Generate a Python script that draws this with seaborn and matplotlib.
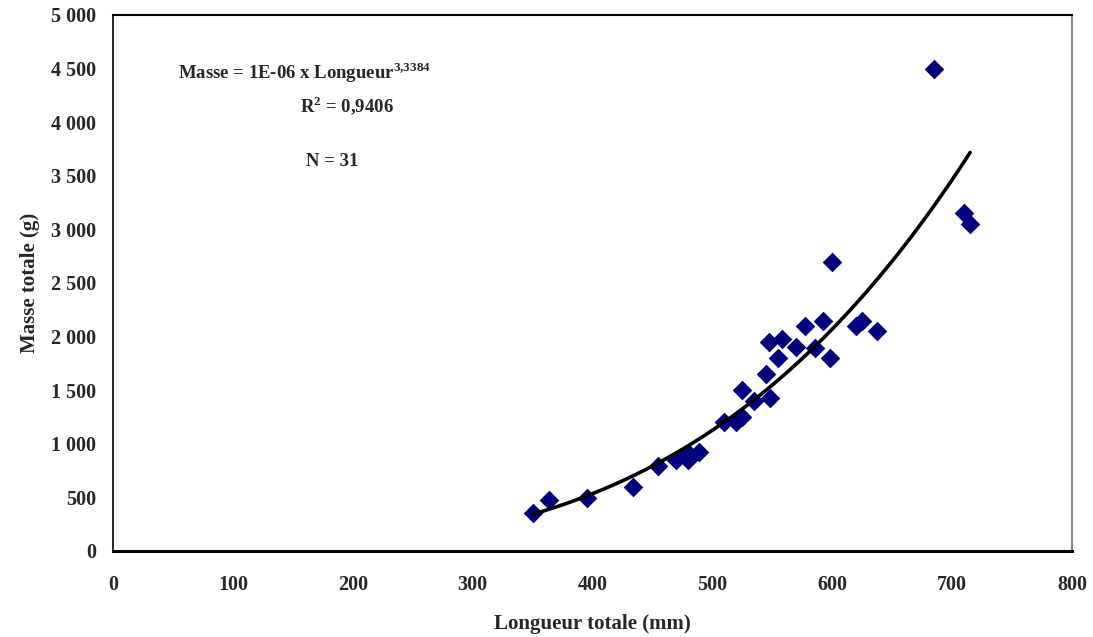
import numpy as np
import pandas as pd
import matplotlib
matplotlib.use("Agg")
import matplotlib.pyplot as plt
import seaborn as sns

# Data
longueur = [350, 364, 395, 434, 455, 470, 480, 480, 489, 510, 520, 525, 525, 535,
            548, 545, 547, 555, 558, 570, 577, 586, 592, 598, 600, 620, 625, 637,
            685, 710, 715]
masse = [350, 480, 490, 595, 795, 850, 850, 910, 920, 1200, 1200, 1250, 1500, 1400,
         1425, 1650, 1950, 1800, 1980, 1900, 2100, 1890, 2150, 1800, 2700, 2100, 2150, 2050,
         4500, 3150, 3050]

# Power trendline  Masse = A x Longueur^B
TREND_A = 1.1e-06
TREND_B = 3.3384

x_ticks = [0, 100, 200, 300, 400, 500, 600, 700, 800]
y_ticks = [0, 500, 1000, 1500, 2000, 2500, 3000, 3500, 4000, 4500, 5000]
y_tick_labels = ["0", "500", "1 000", "1 500", "2 000", "2 500", "3 000",
                 "3 500", "4 000", "4 500", "5 000"]

sns.set_style("white")
plt.rcParams['font.family'] = ['Liberation Serif', 'DejaVu Serif']
plt.rcParams['font.weight'] = 'bold'
plt.rcParams['mathtext.fontset'] = 'custom'
plt.rcParams['mathtext.rm'] = 'Liberation Serif:bold'
plt.rcParams['mathtext.bf'] = 'Liberation Serif:bold'

fig = plt.figure(figsize=(10.93, 6.37), dpi=100)
ax = fig.add_axes([113 / 1093, 1 - 551 / 637, (1072 - 113) / 1093, (551 - 15) / 637])

df = pd.DataFrame({"Longueur": longueur, "Masse": masse})
sns.scatterplot(data=df, x="Longueur", y="Masse", marker="D", s=100,
                color="#000080", edgecolor="#000080", linewidth=0, ax=ax, zorder=3)

xs = np.linspace(min(longueur), max(longueur), 300)
trend = pd.DataFrame({"Longueur": xs, "Masse": TREND_A * xs ** TREND_B})
sns.lineplot(data=trend, x="Longueur", y="Masse", color="black", linewidth=2.6,
             ax=ax, zorder=4)

ax.set_xlim(0, 800)
ax.set_ylim(0, 5000)
ax.set_xticks(x_ticks)
ax.set_xticklabels([str(t) for t in x_ticks])
ax.set_yticks(y_ticks)
ax.set_yticklabels(y_tick_labels)
ax.tick_params(axis="both", direction="out", length=5, width=1, color="#444444",
               labelsize=14.5)
ax.tick_params(axis="x", pad=12)
ax.tick_params(axis="y", pad=7)
for lab in ax.get_xticklabels() + ax.get_yticklabels():
    lab.set_fontweight("bold")

for side in ["left", "bottom", "top"]:
    ax.spines[side].set_color("black")
ax.spines["left"].set_linewidth(1.2)
ax.spines["bottom"].set_linewidth(2.2)
ax.spines["top"].set_linewidth(1.5)
ax.spines["right"].set_color("#888888")
ax.spines["right"].set_linewidth(1.5)

ax.set_xlabel("Longueur totale (mm)", fontsize=15, fontweight="bold", labelpad=14)
ax.set_ylabel("Masse totale (g)", fontsize=15, fontweight="bold", labelpad=8)

ax.text(0.20, 0.893, r"Masse = 1E-06 x Longueur$^{3{,}3384}$", transform=ax.transAxes,
        ha="center", va="center", fontsize=13.5, fontweight="bold")
ax.text(0.244, 0.830, r"R$^{2}$ = 0,9406", transform=ax.transAxes,
        ha="center", va="center", fontsize=13.5, fontweight="bold")
ax.text(0.229, 0.726, "N = 31", transform=ax.transAxes,
        ha="center", va="center", fontsize=13.5, fontweight="bold")

fig.savefig("out.png", dpi=100)
